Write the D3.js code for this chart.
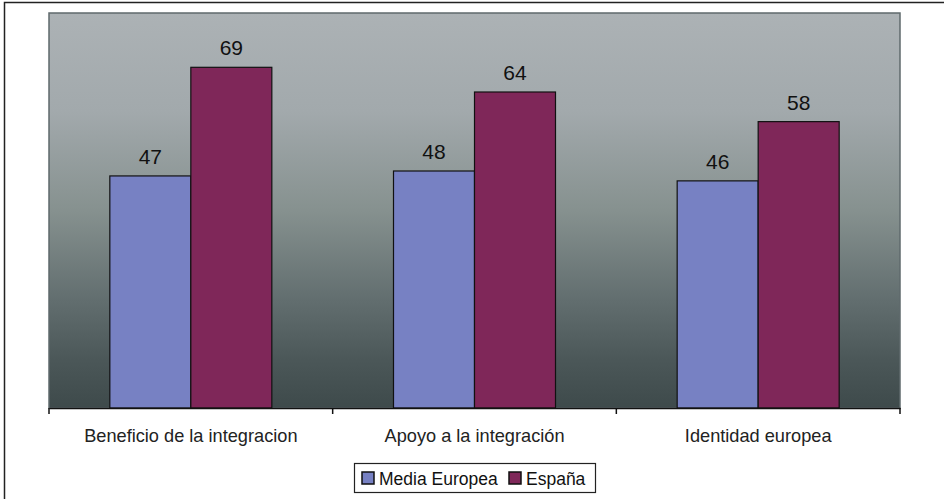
<!DOCTYPE html>
<html>
<head>
<meta charset="utf-8">
<script src="https://cdn.jsdelivr.net/npm/d3@7"></script>
<style>
  html, body { margin: 0; padding: 0; background: #ffffff; }
  svg { display: block; font-family: Arial, "Liberation Sans", sans-serif; }
</style>
</head>
<body>
<svg id="chart" width="944" height="499"></svg>
<script>
// Survey indicators: European average vs Spain
const categories = ["Beneficio de la integracion", "Apoyo a la integración", "Identidad europea"];
const seriesNames = ["Media Europea", "España"];
const mediaEuropea = [47, 48, 46];
const espana = [69, 64, 58];
const seriesColors = ["#7781c3", "#7f2759"];

const svg = d3.select("#chart");
const W = 944, H = 499;
const plot = { left: 49, top: 13, right: 900, bottom: 408 };

// outer frame (left and top edges visible)
svg.append("path")
  .attr("d", `M4.5,${H + 2} L4.5,2.5 L${W + 2},2.5`)
  .attr("fill", "none").attr("stroke", "#222").attr("stroke-width", 1.5);

// plot background gradient
const defs = svg.append("defs");
const grad = defs.append("linearGradient").attr("id", "bg")
  .attr("x1", 0).attr("y1", 0).attr("x2", 0).attr("y2", 1);
[["0%", "#acb2b5"], ["25%", "#a2a9ac"], ["50%", "#86918f"], ["72%", "#636f70"], ["88%", "#4b5758"], ["100%", "#3e4a4b"]]
  .forEach(([o, c]) => grad.append("stop").attr("offset", o).attr("stop-color", c));

svg.append("rect")
  .attr("x", plot.left).attr("y", plot.top)
  .attr("width", plot.right - plot.left).attr("height", plot.bottom - plot.top)
  .attr("fill", "url(#bg)").attr("stroke", "#5f6a6c").attr("stroke-width", 1.5);

const x0 = d3.scaleBand().domain(categories).range([plot.left, plot.right]).paddingInner(0).paddingOuter(0);
const x1 = d3.scaleBand().domain(seriesNames).range([0, 162]);
const y = d3.scaleLinear().domain([0, 80]).range([plot.bottom, plot.top]);

const rows = categories.map((c, i) => ({ cat: c, vals: [mediaEuropea[i], espana[i]] }));

const groups = svg.append("g").selectAll("g").data(rows).join("g")
  .attr("transform", d => `translate(${x0(d.cat) + (x0.bandwidth() - 162) / 2},0)`);

groups.selectAll("rect").data(d => d.vals.map((v, j) => ({ v, s: seriesNames[j], j })))
  .join("rect")
  .attr("x", d => x1(d.s))
  .attr("y", d => y(d.v))
  .attr("width", x1.bandwidth())
  .attr("height", d => y(0) - y(d.v))
  .attr("fill", d => seriesColors[d.j])
  .attr("stroke", "#111").attr("stroke-width", 1.2);

groups.selectAll("text.val").data(d => d.vals.map((v, j) => ({ v, s: seriesNames[j] })))
  .join("text").attr("class", "val")
  .attr("x", d => x1(d.s) + x1.bandwidth() / 2)
  .attr("y", d => y(d.v) - 12)
  .attr("text-anchor", "middle")
  .attr("font-size", 21).attr("fill", "#111")
  .text(d => d.v);

// category axis
const axis = svg.append("g").attr("transform", `translate(0,${plot.bottom})`)
  .call(d3.axisBottom(x0).tickSize(0).tickPadding(21));
axis.select(".domain").attr("stroke", "#111").attr("stroke-width", 1.5);
axis.selectAll(".tick text").attr("font-size", 18.2).attr("fill", "#222")
  .attr("font-family", "Arial, 'Liberation Sans', sans-serif");

// tick marks at band boundaries
const bounds = categories.map(c => x0(c)).concat([x0(categories[categories.length - 1]) + x0.bandwidth()]);
axis.selectAll("line.sep").data(bounds).join("line").attr("class", "sep")
  .attr("x1", d => d).attr("x2", d => d).attr("y1", 0).attr("y2", 6)
  .attr("stroke", "#111").attr("stroke-width", 1.5);

// legend
const legend = svg.append("g").attr("transform", "translate(354,463)");
legend.append("rect").attr("x", 0.5).attr("y", 0.5).attr("width", 241).attr("height", 29)
  .attr("fill", "#fff").attr("stroke", "#222").attr("stroke-width", 1.2);
const items = [{ x: 8, name: seriesNames[0], c: seriesColors[0] }, { x: 155, name: seriesNames[1], c: seriesColors[1] }];
items.forEach(it => {
  legend.append("rect").attr("x", it.x).attr("y", 9).attr("width", 12).attr("height", 12)
    .attr("fill", it.c).attr("stroke", "#111").attr("stroke-width", 1.5);
  legend.append("text").attr("x", it.x + 17).attr("y", 21.5)
    .attr("font-size", 17.5).attr("fill", "#111").text(it.name);
});
</script>
</body>
</html>
